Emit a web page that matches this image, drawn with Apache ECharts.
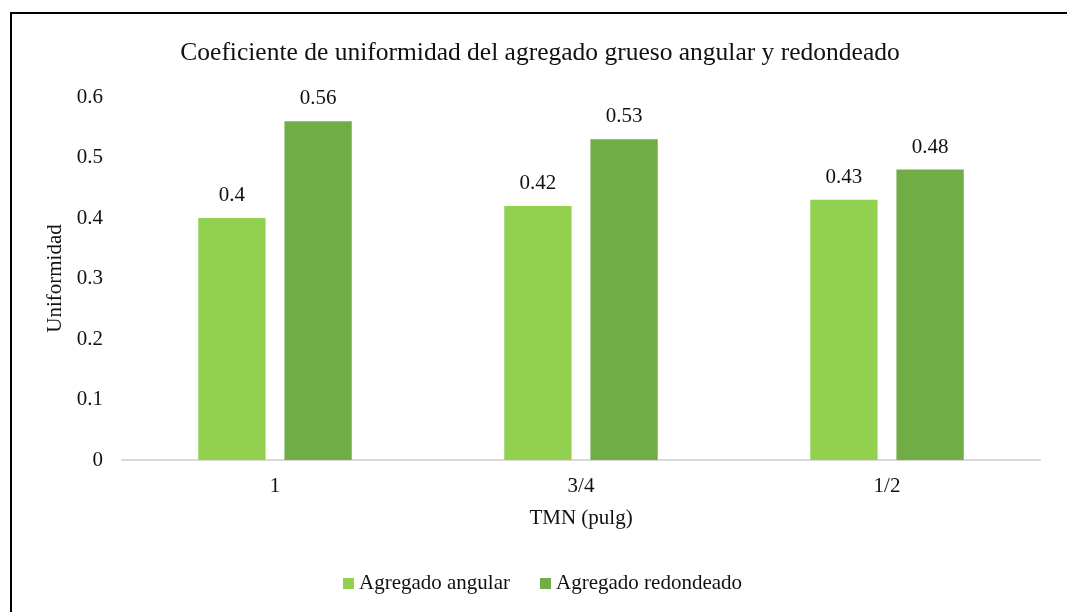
<!DOCTYPE html>
<html>
<head>
<meta charset="utf-8">
<script src="https://cdn.jsdelivr.net/npm/echarts@6/dist/echarts.min.js"></script>
<style>
    html, body { margin: 0; padding: 0; background: #fff; }
    .frame {
        position: absolute;
        left: 10px;
        top: 12px;
        width: 1100px;
        height: 700px;
        border-top: 2px solid #000;
        border-left: 2px solid #000;
    }
    #chart { position: absolute; left: 0; top: 0; width: 1067px; height: 612px; }
</style>
</head>
<body>
<div class="frame"></div>
<div id="chart"></div>
<script>
const categories = ['1', '3/4', '1/2'];
const angular = [0.4, 0.42, 0.43];
const redondeado = [0.56, 0.53, 0.48];
const seriesNames = ['Agregado angular', 'Agregado redondeado'];

const font = "'Liberation Serif', 'Times New Roman', serif";
const textColor = '#111';

const myChart = echarts.init(document.getElementById('chart'));

const barLabel = {
    show: true,
    position: 'top',
    distance: 12,
    color: textColor,
    fontFamily: font,
    fontSize: 21
};

myChart.setOption({
    backgroundColor: 'transparent',
    animation: false,
    title: {
        text: 'Coeficiente de uniformidad del agregado grueso angular y redondeado',
        left: 535,
        textAlign: 'center',
        top: 35,
        textStyle: { color: textColor, fontFamily: font, fontSize: 25.5, fontWeight: 'normal' }
    },
    legend: {
        bottom: 13,
        left: 338,
        itemWidth: 11,
        itemHeight: 11,
        itemGap: 30,
        icon: 'rect',
        textStyle: { color: textColor, fontFamily: font, fontSize: 21, padding: [0, 0, 0, 0] },
        data: seriesNames
    },
    grid: { left: 122, right: 27, top: 97, bottom: 152 },
    xAxis: {
        type: 'category',
        data: categories,
        name: 'TMN (pulg)',
        nameLocation: 'middle',
        nameGap: 48,
        nameTextStyle: { color: textColor, fontFamily: font, fontSize: 21 },
        axisLine: { lineStyle: { color: '#d9d9d9', width: 2 } },
        axisTick: { show: false },
        axisLabel: { color: textColor, fontFamily: font, fontSize: 21, margin: 16 }
    },
    yAxis: {
        type: 'value',
        min: 0,
        max: 0.6,
        interval: 0.1,
        name: 'Uniformidad',
        nameLocation: 'middle',
        nameGap: 52,
        nameTextStyle: { color: textColor, fontFamily: font, fontSize: 21 },
        axisLine: { show: false },
        axisTick: { show: false },
        splitLine: { show: false },
        axisLabel: { color: textColor, fontFamily: font, fontSize: 21, margin: 19 }
    },
    series: [
        {
            name: seriesNames[0],
            type: 'bar',
            data: angular,
            barWidth: '22%',
            barGap: '28%',
            itemStyle: { color: '#92d050' },
            label: barLabel
        },
        {
            name: seriesNames[1],
            type: 'bar',
            data: redondeado,
            barWidth: '22%',
            itemStyle: { color: '#70ad47' },
            label: barLabel
        }
    ]
});
</script>
</body>
</html>
